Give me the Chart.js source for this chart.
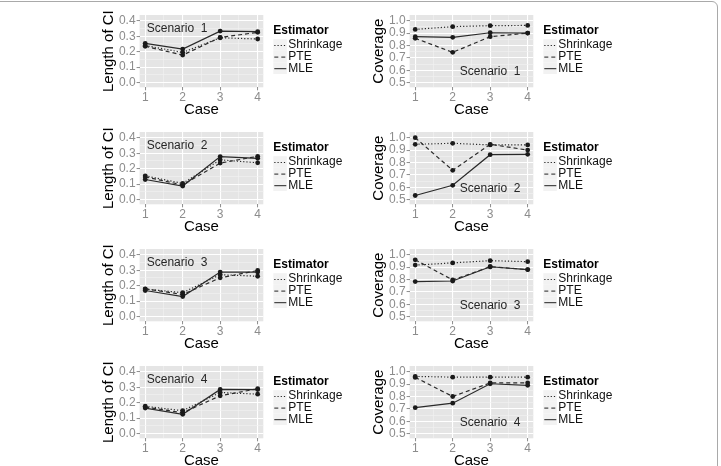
<!DOCTYPE html>
<html>
<head>
<meta charset="utf-8">
<script src="https://cdn.jsdelivr.net/npm/chart.js@4.4.1/dist/chart.umd.min.js"></script>
<style>
    html, body { margin: 0; padding: 0; background: #fff; width: 721px; height: 466px; overflow: hidden; }
    #frame { position: absolute; left: -10px; top: 1px; width: 728px; height: 520px; border: 1px solid #a9a9a9; border-radius: 6px; box-sizing: border-box; }
    canvas { position: absolute; }
</style>
</head>
<body>
<div id="frame"></div>
<script>
// x categories and tick labels
const cases = [1, 2, 3, 4];
const lengthTicks = [0.0, 0.1, 0.2, 0.3, 0.4];
const coverageTicks = [0.5, 0.6, 0.7, 0.8, 0.9, 1.0];
const estimators = ['Shrinkage', 'PTE', 'MLE'];
const scenarios = [1, 2, 3, 4];

// Length of CI, one row per scenario
const lengthShrinkage = [
    [0.240, 0.195, 0.290, 0.282],
    [0.154, 0.105, 0.257, 0.238],
    [0.178, 0.155, 0.271, 0.261],
    [0.177, 0.148, 0.266, 0.255]
];
const lengthPTE = [
    [0.235, 0.178, 0.292, 0.325],
    [0.147, 0.095, 0.236, 0.280],
    [0.180, 0.143, 0.251, 0.298],
    [0.172, 0.135, 0.245, 0.290]
];
const lengthMLE = [
    [0.254, 0.217, 0.333, 0.329],
    [0.130, 0.088, 0.278, 0.267],
    [0.169, 0.130, 0.288, 0.288],
    [0.165, 0.125, 0.286, 0.285]
];

// Coverage, one row per scenario
const coverageShrinkage = [
    [0.930, 0.952, 0.960, 0.962],
    [0.947, 0.955, 0.942, 0.942],
    [0.916, 0.934, 0.952, 0.944],
    [0.962, 0.956, 0.956, 0.956]
];
const coveragePTE = [
    [0.858, 0.745, 0.871, 0.900],
    [1.000, 0.737, 0.947, 0.900],
    [0.959, 0.796, 0.903, 0.880],
    [0.954, 0.800, 0.910, 0.910]
];
const coverageMLE = [
    [0.871, 0.866, 0.903, 0.900],
    [0.534, 0.616, 0.863, 0.866],
    [0.783, 0.788, 0.903, 0.880],
    [0.710, 0.746, 0.903, 0.890]
];

const lineDashes = { Shrinkage: [1.2, 2], PTE: [4, 3], MLE: [] };

// midpoints between majors -> ggplot minor grid
function withMinors(majors) {
    const out = [];
    majors.forEach((v, i) => {
        out.push(v);
        if (i < majors.length - 1) out.push(+(((v + majors[i + 1]) / 2).toFixed(4)));
    });
    return out;
}
function isMajor(majors, v) {
    return majors.some(m => Math.abs(m - v) < 1e-6);
}

// panel background, scenario note, legend
const panelPlugin = {
    id: 'panel',
    beforeDraw(chart, args, opts) {
        const a = chart.chartArea, ctx = chart.ctx;
        ctx.save();
        ctx.fillStyle = '#e5e5e5';
        ctx.fillRect(a.left, a.top, a.right - a.left, a.bottom - a.top);
        ctx.restore();
    },
    afterDraw(chart, args, opts) {
        const a = chart.chartArea, ctx = chart.ctx;
        ctx.save();
        // scenario label
        ctx.fillStyle = '#262626';
        ctx.font = '12px "Liberation Sans", Arial, sans-serif';
        ctx.textAlign = 'center';
        ctx.textBaseline = 'middle';
        ctx.fillText(opts.note, chart.scales.x.getPixelForValue(opts.noteX), chart.scales.y.getPixelForValue(opts.noteY));

        // legend
        const lx = a.right + 10;
        ctx.textAlign = 'left';
        ctx.fillStyle = '#000';
        ctx.font = 'bold 12px "Liberation Sans", Arial, sans-serif';
        ctx.fillText('Estimator', lx, a.top + 15.5);
        ctx.font = '12px "Liberation Sans", Arial, sans-serif';
        estimators.forEach((name, i) => {
            const cy = a.top + 30 + i * 11.6;
            ctx.fillStyle = '#f2f2f2';
            ctx.fillRect(lx, cy - 5.8, 13.5, 11.6);
            ctx.strokeStyle = '#222';
            ctx.lineWidth = 1;
            ctx.setLineDash(lineDashes[name]);
            ctx.beginPath();
            ctx.moveTo(lx + 1, cy + 0.5);
            ctx.lineTo(lx + 13, cy + 0.5);
            ctx.stroke();
            ctx.setLineDash([]);
            ctx.fillStyle = '#111';
            ctx.fillText(name, lx + 15, cy);
        });
        ctx.restore();
    }
};

const tickFont = { family: '"Liberation Sans", Arial, sans-serif', size: 12, lineHeight: 1.1 };
const titleFont = { family: '"Liberation Sans", Arial, sans-serif', size: 15, lineHeight: 1 };

function makePanel(left, top, yTitle, majors, yMin, yMax, shr, pte, mle, note, noteX, noteY) {
    const canvas = document.createElement('canvas');
    canvas.width = 255;
    canvas.height = 117;
    canvas.style.left = left + 'px';
    canvas.style.top = top + 'px';
    document.body.appendChild(canvas);

    const seriesValues = { Shrinkage: shr, PTE: pte, MLE: mle };
    const datasets = estimators.map(name => ({
        label: name,
        data: cases.map((c, i) => ({ x: c, y: seriesValues[name][i] })),
        borderColor: '#2a2a2a',
        borderWidth: 1.2,
        borderDash: lineDashes[name],
        pointRadius: 2.4,
        pointBackgroundColor: '#1a1a1a',
        pointBorderWidth: 0,
        tension: 0,
        fill: false
    }));

    const xMajors = cases;
    const yTicks = withMinors(majors);
    const xTicks = withMinors(xMajors);

    new Chart(canvas, {
        type: 'line',
        data: { datasets },
        plugins: [panelPlugin],
        options: {
            responsive: false,
            animation: false,
            events: [],
            layout: { padding: { left: 1.3, top: 15, right: 91.7, bottom: 0 } },
            plugins: {
                legend: { display: false },
                tooltip: { enabled: false },
                panel: { note, noteX, noteY }
            },
            scales: {
                x: {
                    type: 'linear',
                    min: 0.85,
                    max: 4.15,
                    afterBuildTicks: s => { s.ticks = xTicks.map(v => ({ value: v })); },
                    afterFit: s => { s.height = 29.7; },
                    border: { display: false },
                    grid: {
                        color: c => isMajor(xMajors, c.tick.value) ? '#ffffff' : '#f2f2f2',
                        lineWidth: c => isMajor(xMajors, c.tick.value) ? 1.1 : 0.6,
                        tickColor: c => isMajor(xMajors, c.tick.value) ? '#8c8c8c' : 'rgba(0,0,0,0)',
                        tickLength: 3,
                        tickWidth: 1
                    },
                    ticks: {
                        autoSkip: false,
                        maxRotation: 0,
                        padding: 1,
                        color: '#8c8c8c',
                        font: tickFont,
                        callback: v => isMajor(xMajors, v) ? String(v) : ''
                    },
                    title: { display: true, text: 'Case', color: '#000', font: titleFont, padding: 0 }
                },
                y: {
                    type: 'linear',
                    min: yMin,
                    max: yMax,
                    afterBuildTicks: s => { s.ticks = yTicks.map(v => ({ value: v })); },
                    afterFit: s => { s.width = 38.3; },
                    border: { display: false },
                    grid: {
                        color: c => isMajor(majors, c.tick.value) ? '#ffffff' : '#f2f2f2',
                        lineWidth: c => isMajor(majors, c.tick.value) ? 1.1 : 0.6,
                        tickColor: c => isMajor(majors, c.tick.value) ? '#8c8c8c' : 'rgba(0,0,0,0)',
                        tickLength: 3,
                        tickWidth: 1
                    },
                    ticks: {
                        autoSkip: false,
                        padding: 1,
                        color: '#8c8c8c',
                        font: tickFont,
                        callback: v => isMajor(majors, v) ? v.toFixed(1) : ''
                    },
                    title: { display: true, text: yTitle, color: '#000', font: titleFont, padding: 0 }
                }
            }
        }
    });
}

const rowTops = [0, 117, 234, 351];
scenarios.forEach((s, r) => {
    makePanel(100, rowTops[r], 'Length of CI', lengthTicks, -0.03, 0.437,
        lengthShrinkage[r], lengthPTE[r], lengthMLE[r], 'Scenario  ' + s, 1.85, 0.347);
    makePanel(370, rowTops[r], 'Coverage', coverageTicks, 0.463, 1.046,
        coverageShrinkage[r], coveragePTE[r], coverageMLE[r], 'Scenario  ' + s, 3.0, 0.585);
});
</script>
</body>
</html>
